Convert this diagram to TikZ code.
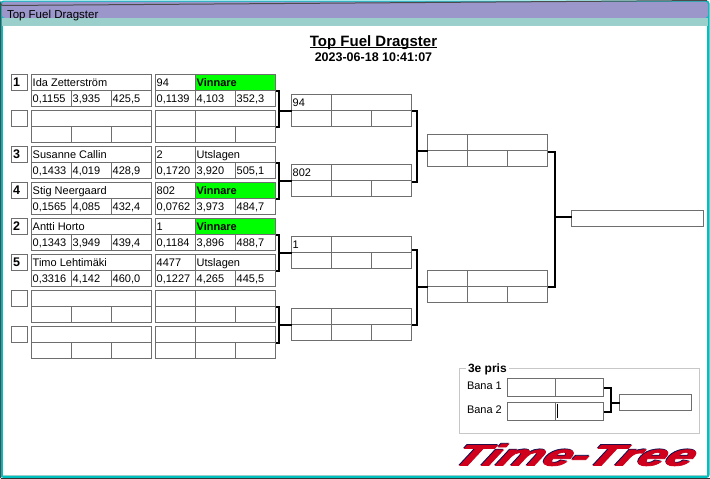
\documentclass[tikz,border=0pt]{standalone}
\usepackage{fontspec}
\setmainfont{Liberation Sans}
\newfontfamily\logofont[BoldItalicFeatures={FakeBold=2.5}]{Liberation Sans}
\usetikzlibrary{calc}
\definecolor{cellline}{HTML}{6E6E6E}
\definecolor{titlepurple}{HTML}{9B97CB}
\definecolor{titleteal}{HTML}{9BCFCB}
\definecolor{edgeteal}{HTML}{00C0C0}
\definecolor{winner}{HTML}{00FF00}
\definecolor{logored}{HTML}{D0001C}
\definecolor{logoblue}{HTML}{101050}
\tikzset{
  cell/.style={draw=cellline,line width=1pt,anchor=north west,inner sep=0pt,outer sep=0pt},
  cardframe/.style={anchor=north west,inner sep=0pt,outer sep=0pt,minimum width=120pt,minimum height=32pt},
  conn/.style={draw=black,line width=2pt,line cap=butt,line join=miter},
  plain/.style={inner sep=0pt,outer sep=0pt,font=\fontsize{11}{11}\selectfont},
  logotext/.style={plain,font=\fontsize{27}{27}\logofont\bfseries\itshape,xslant=0.6,xscale=1.87,yscale=1.1}
}
% a cell: x y width height name text
\newcommand{\cellbox}[7][]{%
  \node[cell,#1,minimum width=#4pt,minimum height=#5pt] (#6) at (#2,#3) {};
  \node[plain,anchor=base west] (#6t) at ($(#2,#3)+(1.2,11.5)$) {#7};
}
% a result card: name x y topleft topright c1 c2 c3 top-right cell style
\newcommand{\card}[9]{%
  \node[cardframe] (#1) at (#2,#3) {};
  \cellbox[#9]{#2+40}{#3}{80}{16}{#1tr}{#5}
  \cellbox{#2}{#3}{40}{16}{#1tl}{#4}
  \cellbox{#2}{#3+16}{40}{16}{#1a}{#6}
  \cellbox{#2+40}{#3+16}{40}{16}{#1b}{#7}
  \cellbox{#2+80}{#3+16}{40}{16}{#1c}{#8}
}
% a driver card: name x y drivername c1 c2 c3
\newcommand{\drivercard}[7]{%
  \node[cardframe] (#1) at (#2,#3) {};
  \cellbox{#2}{#3}{120}{16}{#1n}{#4}
  \cellbox{#2}{#3+16}{40}{16}{#1a}{#5}
  \cellbox{#2+40}{#3+16}{40}{16}{#1b}{#6}
  \cellbox{#2+80}{#3+16}{40}{16}{#1c}{#7}
}
\newcommand{\seed}[4]{%
  \node[cell,minimum width=16pt,minimum height=16pt] (#1) at (#2,#3) {};
  \node[plain,anchor=base west,font=\fontsize{12.5}{12.5}\selectfont\bfseries] (#1t) at (#2+1.5,#3+12) {#4};
}
\begin{document}
\begin{tikzpicture}[x=1pt,y=-1pt]
\useasboundingbox (0,0) rectangle (710,479);
% window
\fill[white] (0,0) rectangle (710,479);
\fill[edgeteal,rounded corners=3pt] (0.5,0.5) rectangle (709.5,478);
\fill[titlepurple,rounded corners=3pt] (2,1.5) rectangle (708,18);
\fill[titleteal] (2,18) rectangle (708,26);
\fill[white] (3,26) rectangle (707,476);
\fill[titleteal] (3,474.5) rectangle (707,476);
\draw[black!80,line width=1pt] (0.5,478.5) -- (709.5,478.5);
\draw[black!70,line width=1pt] (0.5,478) -- (0.5,3) arc[start angle=180,end angle=90,radius=2.5] -- (707,0.5);
\node[plain,anchor=base west,font=\fontsize{11.5}{11.5}\selectfont] (wintitle) at (7,19) {Top Fuel Dragster};
% heading
\node[plain,anchor=base,font=\fontsize{15}{15}\selectfont\bfseries] (head) at (373.5,46) {\underline{\smash{Top Fuel Dragster}}};
\node[plain,anchor=base,font=\fontsize{12.5}{12.5}\selectfont\bfseries] (date) at (373.5,61) {2023-06-18 10:41:07};
% first column: seeds
\seed{s1}{11.5}{74.5}{1}
\seed{s2}{11.5}{110.5}{}
\seed{s3}{11.5}{146.5}{3}
\seed{s4}{11.5}{182.5}{4}
\seed{s5}{11.5}{218.5}{2}
\seed{s6}{11.5}{254.5}{5}
\seed{s7}{11.5}{290.5}{}
\seed{s8}{11.5}{326.5}{}
% drivers
\drivercard{d1}{31.5}{74.5}{Ida Zetterström}{0,1155}{3,935}{425,5}
\drivercard{d2}{31.5}{110.5}{}{}{}{}
\drivercard{d3}{31.5}{146.5}{Susanne Callin}{0,1433}{4,019}{428,9}
\drivercard{d4}{31.5}{182.5}{Stig Neergaard}{0,1565}{4,085}{432,4}
\drivercard{d5}{31.5}{218.5}{Antti Horto}{0,1343}{3,949}{439,4}
\drivercard{d6}{31.5}{254.5}{Timo Lehtimäki}{0,3316}{4,142}{460,0}
\drivercard{d7}{31.5}{290.5}{}{}{}{}
\drivercard{d8}{31.5}{326.5}{}{}{}{}
% results
\card{r1}{155.5}{74.5}{94}{\textbf{Vinnare}}{0,1139}{4,103}{352,3}{fill=winner}
\card{r2}{155.5}{110.5}{}{}{}{}{}{}
\card{r3}{155.5}{146.5}{2}{Utslagen}{0,1720}{3,920}{505,1}{}
\card{r4}{155.5}{182.5}{802}{\textbf{Vinnare}}{0,0762}{3,973}{484,7}{fill=winner}
\card{r5}{155.5}{218.5}{1}{\textbf{Vinnare}}{0,1184}{3,896}{488,7}{fill=winner}
\card{r6}{155.5}{254.5}{4477}{Utslagen}{0,1227}{4,265}{445,5}{}
\card{r7}{155.5}{290.5}{}{}{}{}{}{}
\card{r8}{155.5}{326.5}{}{}{}{}{}{}
% round 2
\card{q1}{291.5}{94.5}{94}{}{}{}{}{}
\card{q2}{291.5}{164.5}{802}{}{}{}{}{}
\card{q3}{291.5}{236.5}{1}{}{}{}{}{}
\card{q4}{291.5}{308.5}{}{}{}{}{}{}
% round 3
\card{t1}{427.5}{134.5}{}{}{}{}{}{}
\card{t2}{427.5}{270.5}{}{}{}{}{}{}
% final
\node[cell,minimum width=132pt,minimum height=16pt] (final) at (571.5,210.5) {};
% connectors
\foreach \a/\b/\t in {r1/r2/q1,r3/r4/q2,r5/r6/q3,r7/r8/q4}{
  \draw[conn] (\a.east) -- ++(3,0) |- (\b.east);
  \draw[conn] (\t.west) -- ($(\t.west -| \a.east)+(3,0)$);
}
\draw[conn] (q1.east) -- ++(5,0) |- ($(q2.east)+(0,1.5)$);
\draw[conn] (t1.west) -- ($(t1.west -| q1.east)+(5,0)$);
\draw[conn] ($(q3.east)+(0,-3)$) -- ++(5,0) |- (q4.east);
\draw[conn] (t2.west) -- ($(t2.west -| q3.east)+(5,0)$);
\draw[conn] ($(t1.east)+(0,1.5)$) -- ++(7.5,0) |- (t2.east);
\draw[conn] ($(final.west)+(0,-1.5)$) -- ++(-16,0);
% third place
\draw[black!22,line width=1pt] (459.5,368.5) rectangle (699.5,433.5);
\node[plain,fill=white,font=\fontsize{12}{12}\selectfont\bfseries,anchor=base west,inner xsep=2pt,inner ysep=1pt] (prize) at (466,372.5) {3e pris};
\node[plain,anchor=base west] (bana1) at (467,389) {Bana 1};
\node[plain,anchor=base west] (bana2) at (467,413) {Bana 2};
\node[cell,minimum width=96pt,minimum height=18pt] (b1) at (507.5,378.5) {};
\node[cell,minimum width=96pt,minimum height=18pt] (b2) at (507.5,402.5) {};
\node[cell,minimum width=72pt,minimum height=16pt] (bf) at (619.5,394.5) {};
\draw[cellline,line width=1pt] (b1.north) -- (b1.south);
\draw[cellline,line width=1pt] (b2.north) -- (b2.south);
\draw[black,line width=1pt] ($(b2.north)+(2,1)$) -- ($(b2.south)+(2,-3)$);
\draw[conn] (b1.east) -- ++(7,0) |- (b2.east);
\draw[conn] (bf.west) -- ($(bf.west -| b1.east)+(7,0)$);
% logo
\node[logotext,text=logoblue] (logoshadow) at (576.3,454.2) {Time-Tree};
\node[logotext,text=logored] (logo) at (577,455) {Time-Tree};
\end{tikzpicture}
\end{document}
